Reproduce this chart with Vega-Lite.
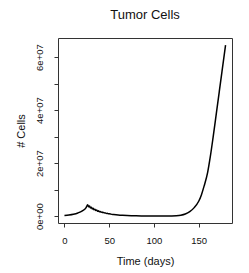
{
  "$schema": "https://vega.github.io/schema/vega-lite/v6.json",
  "width": 174,
  "height": 185,
  "autosize": "none",
  "padding": {"left": 58, "top": 38, "right": 17, "bottom": 50},
  "background": "white",
  "title": {"text": "Tumor Cells", "font": "Liberation Sans", "fontSize": 13, "fontWeight": "normal", "color": "#111", "offset": 16, "anchor": "middle"},
  "config": {"view": {"stroke": "#333", "strokeWidth": 1}},
  "data": {"values": [
    {"t": 0, "v": 0.2}, {"t": 5, "v": 0.4}, {"t": 10, "v": 0.7}, {"t": 15, "v": 1.2}, {"t": 20, "v": 2.0},
    {"t": 24, "v": 3.1}, {"t": 26, "v": 4.3}, {"t": 27, "v": 3.5}, {"t": 28, "v": 3.8}, {"t": 29, "v": 3.1},
    {"t": 30, "v": 3.35}, {"t": 31, "v": 2.7}, {"t": 32, "v": 2.95}, {"t": 33, "v": 2.4}, {"t": 34, "v": 2.6},
    {"t": 35, "v": 2.1}, {"t": 36, "v": 2.3}, {"t": 37, "v": 1.85}, {"t": 38, "v": 2.0}, {"t": 39, "v": 1.65},
    {"t": 40, "v": 1.75}, {"t": 41, "v": 1.45}, {"t": 42, "v": 1.55}, {"t": 43, "v": 1.3}, {"t": 44, "v": 1.35},
    {"t": 45, "v": 1.15}, {"t": 46, "v": 1.2}, {"t": 47, "v": 1.0}, {"t": 48, "v": 1.05}, {"t": 49, "v": 0.9},
    {"t": 50, "v": 0.92}, {"t": 52, "v": 0.75}, {"t": 55, "v": 0.6}, {"t": 60, "v": 0.4}, {"t": 65, "v": 0.28},
    {"t": 70, "v": 0.2}, {"t": 80, "v": 0.1}, {"t": 90, "v": 0.06}, {"t": 100, "v": 0.05}, {"t": 110, "v": 0.05},
    {"t": 120, "v": 0.08}, {"t": 125, "v": 0.15}, {"t": 130, "v": 0.35}, {"t": 135, "v": 0.8}, {"t": 140, "v": 1.7},
    {"t": 145, "v": 3.2}, {"t": 150, "v": 5.6}, {"t": 153, "v": 8.0}, {"t": 156, "v": 11.3}, {"t": 160, "v": 16.5},
    {"t": 163, "v": 22.5}, {"t": 166, "v": 29.5}, {"t": 170, "v": 39.5}, {"t": 173, "v": 47}, {"t": 176, "v": 54.5},
    {"t": 180, "v": 64.5}
  ]},
  "mark": {"type": "line", "color": "black", "strokeWidth": 1.5, "interpolate": "monotone"},
  "encoding": {
    "x": {"field": "t", "type": "quantitative",
      "scale": {"domain": [-7.2, 187.2], "nice": false, "zero": false},
      "axis": {"title": "Time (days)", "values": [0, 50, 100, 150], "domain": false, "grid": false,
        "tickSize": 4, "tickColor": "#333", "labelFont": "Liberation Sans", "labelFontSize": 9.5, "labelColor": "#111",
        "labelPadding": 8, "titleFont": "Liberation Sans", "titleFontSize": 11, "titleFontWeight": "normal", "titleColor": "#111", "titlePadding": 11}},
    "y": {"field": "v", "type": "quantitative",
      "scale": {"domain": [-2.6, 67.2], "nice": false, "zero": false},
      "axis": {"title": "# Cells", "values": [0, 10, 20, 30, 40, 50, 60], "domain": false, "grid": false,
        "labelExpr": "datum.value == 0 ? '0e+00' : (datum.value % 20 == 0 ? (datum.value / 10) + 'e+07' : '')",
        "labelAngle": -90, "labelAlign": "center", "labelBaseline": "bottom",
        "tickSize": 4, "tickColor": "#333", "labelFont": "Liberation Sans", "labelFontSize": 9.5, "labelColor": "#111",
        "labelPadding": 10, "titleFont": "Liberation Sans", "titleFontSize": 11, "titleFontWeight": "normal", "titleColor": "#111", "titlePadding": 8}}
  }
}
